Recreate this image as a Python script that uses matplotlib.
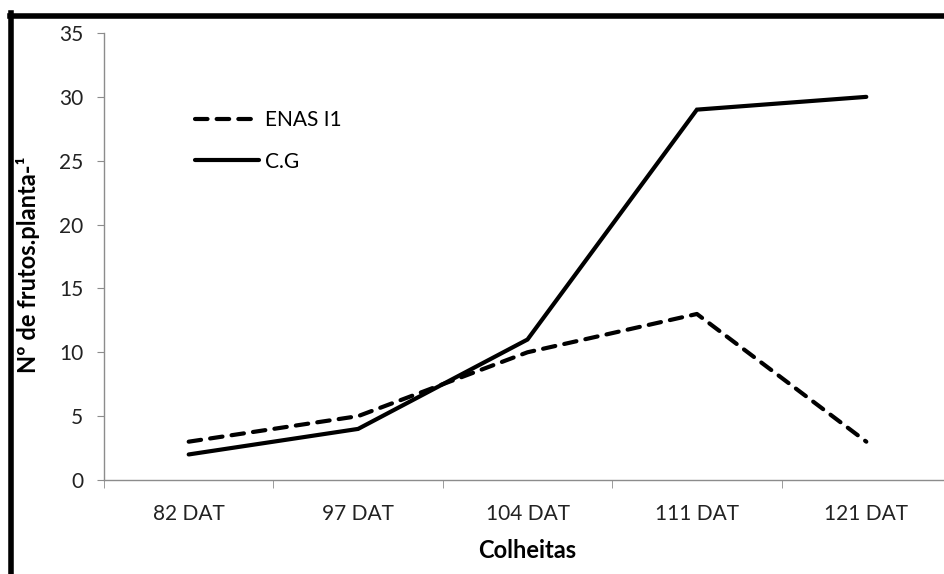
import matplotlib.pyplot as plt
from matplotlib.lines import Line2D

# data
colheitas = ['82 DAT', '97 DAT', '104 DAT', '111 DAT', '121 DAT']
enas_i1 = [3, 5, 10, 13, 3]
cg = [2, 4, 11, 29, 30]

plt.rcParams['font.family'] = ['Lato', 'DejaVu Sans']

W, H = 944, 574
fig = plt.figure(figsize=(W / 100, H / 100), dpi=100)

# axes box in pixel coords: left 104, right ~951, top 33, bottom 480
left, right, top, bottom = 104, 951, 33, 480
ax = fig.add_axes([left / W, 1 - bottom / H, (right - left) / W, (bottom - top) / H])

x = range(len(colheitas))
ax.plot(x, enas_i1, color='black', lw=3.0, ls=(0, (3.0, 2.2)),
        dash_capstyle='round', solid_capstyle='round', label='ENAS I1')
ax.plot(x, cg, color='black', lw=3.0, solid_capstyle='round',
        solid_joinstyle='miter', label='C.G')

ax.set_xlim(-0.5, len(colheitas) - 0.5)
ax.set_ylim(0, 35)
ax.set_yticks(range(0, 36, 5))
ax.set_xticks(x)
ax.set_xticklabels(colheitas)
ax.set_xticks([i + 0.5 for i in range(-1, len(colheitas))], minor=True)

for s in ['top', 'right']:
    ax.spines[s].set_visible(False)
for s in ['left', 'bottom']:
    ax.spines[s].set_color('#8c8c8c')
    ax.spines[s].set_linewidth(1)

ax.tick_params(axis='y', length=5, color='#8c8c8c', labelsize=15, pad=10, labelcolor='#222222')
ax.tick_params(axis='x', which='major', length=0, labelsize=15, pad=17, labelcolor='#222222')
ax.tick_params(axis='x', which='minor', length=6, color='#8c8c8c')

ax.set_ylabel('Nº de frutos.planta-¹', fontsize=17, fontweight='bold')
ax.set_xlabel('Colheitas', fontsize=17, fontweight='bold')
ax.yaxis.set_label_coords((40 - left) / (right - left), (bottom - 265) / (bottom - top))
ax.xaxis.set_label_coords(0.5, (bottom - 539) / (bottom - top))

ax.legend(loc='upper left', bbox_to_anchor=(0.085, 0.87), frameon=False,
          fontsize=15, handlelength=3.1, handletextpad=0.25, labelspacing=1.05)

# cropped outer chart border (top and left only visible)
fig.add_artist(Line2D([10 / W, 1], [1 - 15.5 / H, 1 - 15.5 / H], color='black', lw=4))
fig.add_artist(Line2D([10.5 / W, 10.5 / W], [0, 1 - 13 / H], color='black', lw=4))

fig.savefig('out.png', dpi=100)
